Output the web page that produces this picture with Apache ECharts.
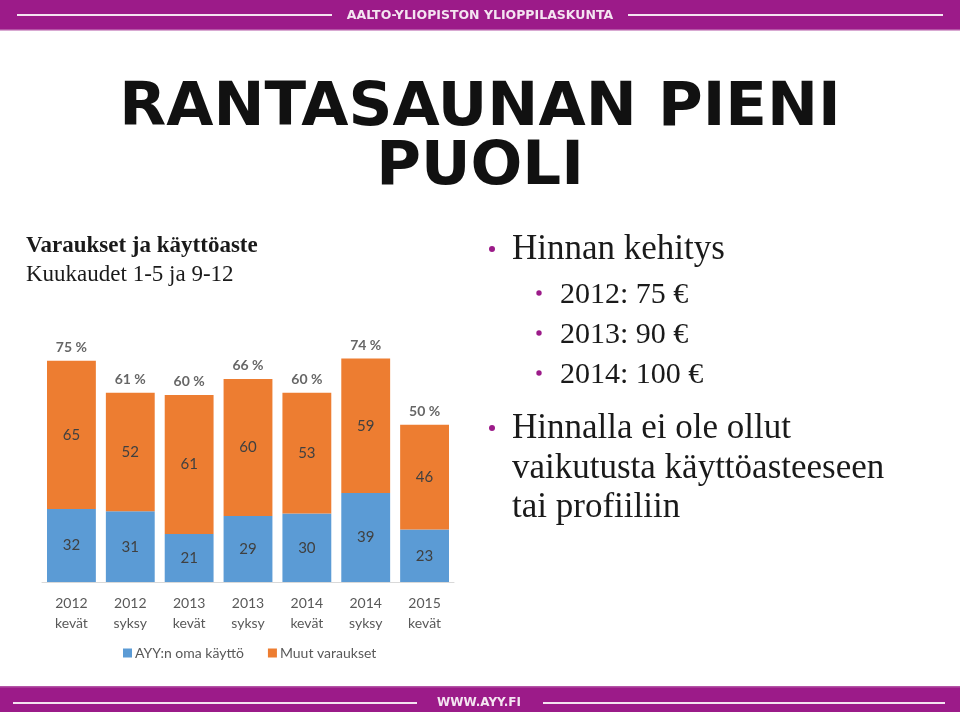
<!DOCTYPE html>
<html>
<head>
<meta charset="utf-8">
<script src="https://cdn.jsdelivr.net/npm/echarts@6/dist/echarts.min.js"></script>
<style>
html,body{margin:0;padding:0;background:#fff;}
#chart{width:960px;height:712px;}
</style>
</head>
<body>
<div id="chart"></div>
<script>
// ---- data ----
const categories = ['2012\nkevät', '2012\nsyksy', '2013\nkevät', '2013\nsyksy', '2014\nkevät', '2014\nsyksy', '2015\nkevät'];
const ownUse = [32, 31, 21, 29, 30, 39, 23];          // AYY:n oma käyttö
const otherBookings = [65, 52, 61, 60, 53, 59, 46];   // Muut varaukset
const utilisationPct = [75, 61, 60, 66, 60, 74, 50];  // käyttöaste %
const seriesNames = ['AYY:n oma käyttö', 'Muut varaukset'];
const titleText = 'RANTASAUNAN PIENI\nPUOLI';
const subtitleLines = ['Varaukset ja käyttöaste', 'Kuukaudet 1-5 ja 9-12'];
const priceHeading = 'Hinnan kehitys';
const priceLines = ['2012: 75 €', '2013: 90 €', '2014: 100 €'];
const noteLines = ['Hinnalla ei ole ollut', 'vaikutusta käyttöasteeseen', 'tai profiiliin'];
const headerText = 'AALTO-YLIOPISTON YLIOPPILASKUNTA';
const footerText = 'WWW.AYY.FI';

const totals = ownUse.map((v, i) => v + otherBookings[i]);

const PURPLE = '#9C1B89';
const LINE = '#F4E4F1';
const SERIF = '"Liberation Serif", "Times New Roman", serif';
const SANS = 'Lato, "Noto Sans", sans-serif';

const graphics = [
  // header band
  { type: 'rect', shape: { x: 0, y: 0, width: 960, height: 30 }, style: { fill: PURPLE } },
  { type: 'rect', shape: { x: 0, y: 29, width: 960, height: 1.5 }, style: { fill: '#B455A6' } },
  { type: 'line', shape: { x1: 17, y1: 15, x2: 332, y2: 15 }, style: { stroke: LINE, lineWidth: 2 } },
  { type: 'line', shape: { x1: 628, y1: 15, x2: 943, y2: 15 }, style: { stroke: LINE, lineWidth: 2 } },
  { type: 'text', x: 480, y: 16, style: { text: headerText, fontFamily: '"DejaVu Sans", sans-serif', fontWeight: 'bold', fontSize: 12.5, fill: LINE, align: 'center', verticalAlign: 'middle' } },
  // footer band
  { type: 'rect', shape: { x: 0, y: 686, width: 960, height: 26 }, style: { fill: PURPLE } },
  { type: 'rect', shape: { x: 0, y: 686, width: 960, height: 1.5 }, style: { fill: '#B455A6' } },
  { type: 'line', shape: { x1: 13, y1: 703, x2: 417, y2: 703 }, style: { stroke: LINE, lineWidth: 2 } },
  { type: 'line', shape: { x1: 543, y1: 703, x2: 945, y2: 703 }, style: { stroke: LINE, lineWidth: 2 } },
  { type: 'text', x: 479, y: 703, style: { text: footerText, fontFamily: '"DejaVu Sans", sans-serif', fontWeight: 'bold', fontSize: 12, fill: LINE, align: 'center', verticalAlign: 'middle' } },
  // subtitle
  { type: 'text', x: 26, y: 246, style: { text: subtitleLines[0], fontFamily: SERIF, fontWeight: 'bold', fontSize: 23, fill: '#1a1a1a', align: 'left', verticalAlign: 'middle' } },
  { type: 'text', x: 26, y: 275, style: { text: subtitleLines[1], fontFamily: SERIF, fontSize: 23, fill: '#1a1a1a', align: 'left', verticalAlign: 'middle' } },
  // right bullets
  { type: 'circle', shape: { cx: 492, cy: 249, r: 3 }, style: { fill: PURPLE } },
  { type: 'text', x: 512, y: 250, style: { text: priceHeading, fontFamily: SERIF, fontSize: 35, fill: '#1a1a1a', align: 'left', verticalAlign: 'middle' } }
];
const subY = [295, 335, 375];
priceLines.forEach((t, i) => {
  graphics.push({ type: 'circle', shape: { cx: 539, cy: subY[i] - 2, r: 2.7 }, style: { fill: PURPLE } });
  graphics.push({ type: 'text', x: 560, y: subY[i], style: { text: t, fontFamily: SERIF, fontSize: 30, fill: '#1a1a1a', align: 'left', verticalAlign: 'middle' } });
});
graphics.push({ type: 'circle', shape: { cx: 492, cy: 428, r: 3 }, style: { fill: PURPLE } });
const noteY = [429, 469, 508];
noteLines.forEach((t, i) => {
  graphics.push({ type: 'text', x: 512, y: noteY[i], style: { text: t, fontFamily: SERIF, fontSize: 35, fill: '#1a1a1a', align: 'left', verticalAlign: 'middle' } });
});

const chart = echarts.init(document.getElementById('chart'));
chart.setOption({
  backgroundColor: '#fff',
  animation: false,
  title: {
    text: titleText,
    left: 'center',
    top: 80,
    padding: 0,
    textStyle: { fontFamily: '"DejaVu Sans", sans-serif', fontWeight: 'bold', fontSize: 61, lineHeight: 59, color: '#111' }
  },
  grid: { left: 42, right: 506, top: 354, bottom: 130, containLabel: false },
  legend: {
    data: seriesNames,
    left: 118,
    top: 641,
    icon: 'rect',
    itemWidth: 9,
    itemHeight: 9,
    itemGap: 24,
    textStyle: { fontFamily: SANS, fontSize: 14, color: '#595959', padding: [0, 0, 0, -2] }
  },
  xAxis: {
    type: 'category',
    data: categories,
    axisLine: { lineStyle: { color: '#D9D9D9', width: 1 } },
    axisTick: { show: false },
    axisLabel: { color: '#595959', fontFamily: SANS, fontSize: 14, lineHeight: 20, margin: 11, interval: 0 }
  },
  yAxis: { type: 'value', min: 0, max: 100, show: false, splitLine: { show: false } },
  series: [
    {
      name: seriesNames[0], type: 'bar', stack: 'a', data: ownUse, barCategoryGap: '17%',
      itemStyle: { color: '#5B9BD5' },
      label: { show: true, position: 'inside', color: '#404040', fontFamily: SANS, fontSize: 15 }
    },
    {
      name: seriesNames[1], type: 'bar', stack: 'a', data: otherBookings, barCategoryGap: '17%',
      itemStyle: { color: '#ED7D31' },
      label: { show: true, position: 'inside', color: '#404040', fontFamily: SANS, fontSize: 15 }
    },
    {
      name: 'pct', type: 'scatter', data: totals, symbolSize: 1, silent: true,
      itemStyle: { color: 'rgba(0,0,0,0)' },
      label: {
        show: true, position: 'top', distance: 6,
        formatter: p => utilisationPct[p.dataIndex] + ' %',
        color: '#404040', fontFamily: SANS, fontWeight: 'bold', fontSize: 14
      }
    }
  ],
  graphic: graphics
});
</script>
</body>
</html>
